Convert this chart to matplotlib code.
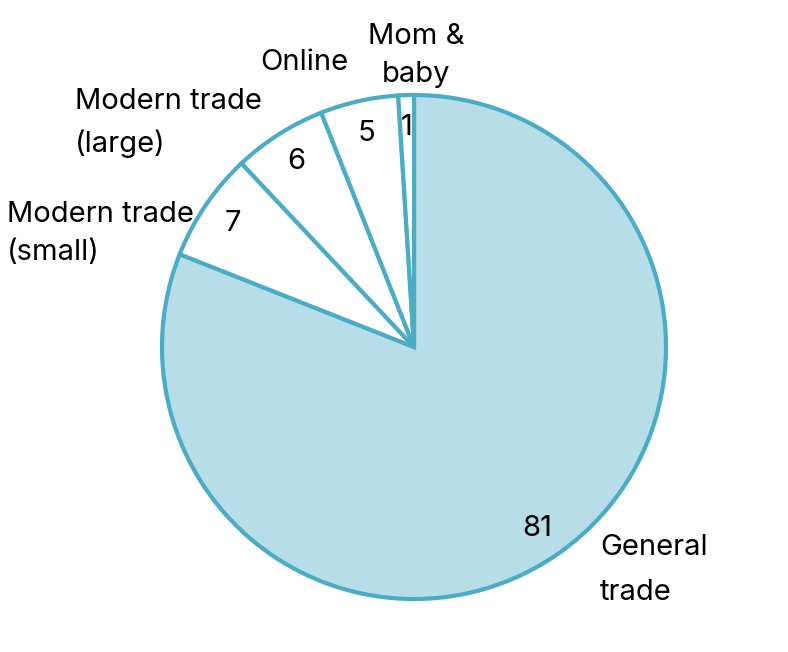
import matplotlib
matplotlib.use("Agg")
import matplotlib.pyplot as plt
import numpy as np

categories = ["General\ntrade", "Modern trade\n(small)", "Modern trade\n(large)", "Online", "Mom &\nbaby"]
values = [81, 7, 6, 5, 1]

fill_colors = ["#B7DDE8", "#FFFFFF", "#FFFFFF", "#FFFFFF", "#FFFFFF"]
edge_color = "#4BACC6"

# label layout (last-line baseline position in radius units, alignment, line spacing)
label_layout = [
    dict(xy=(0.738, -1.004), ha="left", ls=1.86),
    dict(xy=(-1.615, 0.345), ha="left", ls=1.54),
    dict(xy=(-1.345, 0.774), ha="left", ls=1.66),
    dict(xy=(-0.437, 1.099), ha="center", ls=1.5),
    dict(xy=(0.008, 1.052), ha="center", ls=1.54),
]

W, H, DPI = 788, 652, 100
cx, cy, R = 414, 347, 252

plt.rcParams['font.family'] = ['Inter', 'DejaVu Sans']
fig = plt.figure(figsize=(W / DPI, H / DPI), dpi=DPI)
ax = fig.add_axes([0, 0, 1, 1])

wedges, _ = ax.pie(values, startangle=90, counterclock=False, colors=fill_colors,
                   wedgeprops=dict(edgecolor=edge_color, linewidth=3, joinstyle="miter"),
                   radius=1.0, center=(0, 0), frame=True)
ax.set_xlim(-cx / R, (W - cx) / R)
ax.set_ylim(-(H - cy) / R, cy / R)
ax.set_aspect("equal")
ax.axis("off")

fs = 21
for w, v in zip(wedges, values):
    mid = np.deg2rad((w.theta1 + w.theta2) / 2)
    ax.text(0.87 * np.cos(mid), 0.87 * np.sin(mid), f"{v}", ha="center", va="center",
            fontsize=fs, color="black")

for name, lay in zip(categories, label_layout):
    ax.text(lay["xy"][0], lay["xy"][1], name, ha=lay["ha"], va="baseline",
            multialignment=lay["ha"], linespacing=lay["ls"], fontsize=fs, color="black")

fig.savefig("out.png", dpi=DPI, facecolor="white")
